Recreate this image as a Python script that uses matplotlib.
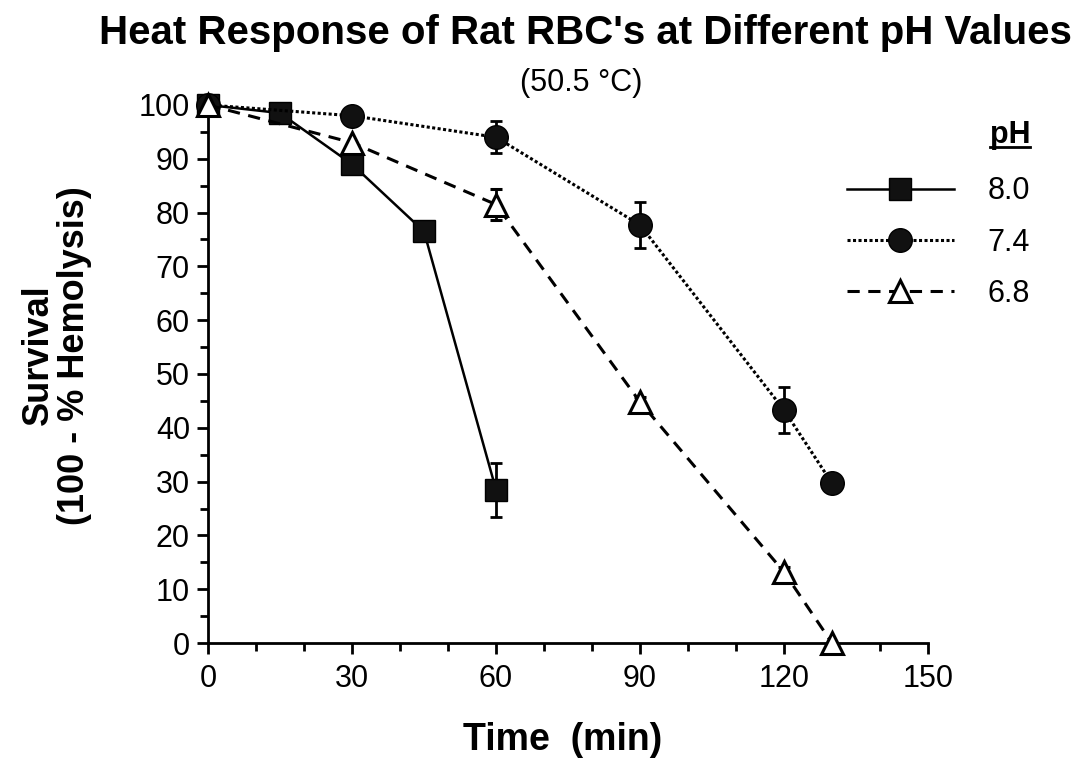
import matplotlib
matplotlib.use("Agg")
import matplotlib.pyplot as plt
from matplotlib.ticker import MultipleLocator
from matplotlib.lines import Line2D

plt.rcParams['font.family'] = ['Liberation Sans', 'DejaVu Sans']

# Data
t_80 = [0, 15, 30, 45, 60]
s_80 = [100, 98.5, 89, 76.5, 28.5]
e_80 = [0, 0, 0, 0, 5.0]

t_74 = [0, 30, 60, 90, 120, 130]
s_74 = [100, 98, 94, 77.7, 43.3, 29.7]
e_74 = [0, 0, 3.0, 4.3, 4.3, 0]

t_68 = [0, 30, 60, 90, 120, 130]
s_68 = [100, 93, 81.5, 44.8, 13.2, 0]
e_68 = [0, 0, 2.8, 1.0, 1.0, 0]

labels = ["8.0", "7.4", "6.8"]
title = "Heat Response of Rat RBC's at Different pH Values"
subtitle = "(50.5 °C)"

fig = plt.figure(figsize=(10.82, 7.59), dpi=100)
ax = fig.add_axes([0.1922, 0.1528, 0.6655, 0.7089])

ms = 16
dot = (0, (1, 0.8))
dash = (0, (4, 2.8))


def err(e):
    v = [x if x > 0 else float('nan') for x in e]
    return [v, v]


h80 = ax.errorbar(t_80, s_80, yerr=err(e_80),
                  color='black', linestyle='-', linewidth=1.8, marker='s', markersize=ms,
                  markerfacecolor='#111111', markeredgecolor='black', ecolor='black',
                  elinewidth=2, capsize=4, capthick=2, clip_on=False, zorder=3)
h74 = ax.errorbar(t_74, s_74, yerr=err(e_74),
                  color='black', linestyle=dot, linewidth=2.2, marker='o', markersize=ms + 1,
                  markerfacecolor='#111111', markeredgecolor='black', ecolor='black',
                  elinewidth=2, capsize=4, capthick=2, clip_on=False, zorder=4)
h68 = ax.errorbar(t_68, s_68, yerr=err(e_68),
                  color='black', linestyle=dash, linewidth=2.2, marker='^', markersize=ms,
                  markerfacecolor='white', markeredgecolor='black', markeredgewidth=2.2, ecolor='black',
                  elinewidth=2, capsize=4, capthick=2, clip_on=False, zorder=5)

for bars in (h80, h74, h68):
    for c in bars[1]:
        c.set_clip_on(False)
    for c in bars[2]:
        c.set_clip_on(False)

ax.set_xlim(0, 150)
ax.set_ylim(0, 100)
ax.xaxis.set_major_locator(MultipleLocator(30))
ax.xaxis.set_minor_locator(MultipleLocator(10))
ax.yaxis.set_major_locator(MultipleLocator(10))
ax.yaxis.set_minor_locator(MultipleLocator(5))
for s in ('top', 'right'):
    ax.spines[s].set_visible(False)
for s in ('left', 'bottom'):
    ax.spines[s].set_linewidth(2.0)
ax.tick_params(which='major', direction='out', length=8, width=2, labelsize=22)
ax.tick_params(axis='x', which='major', pad=7)
ax.tick_params(axis='y', which='major', pad=5)
ax.tick_params(which='minor', direction='out', length=6, width=2)

ax.set_xlabel("Time  (min)", fontsize=27, fontweight='bold')
ax.xaxis.set_label_coords(0.492, -0.147)
ax.set_ylabel("Survival\n(100 - % Hemolysis)", fontsize=26, fontweight='bold', linespacing=1.05)
ax.yaxis.set_label_coords(-0.161, 0.535)

fig.text(0.541, 1 - 44 / 759, title, ha='center', va='baseline', fontsize=29, fontweight='bold')
fig.text(0.537, 1 - 91 / 759, subtitle, ha='center', va='baseline', fontsize=22)

handles = [Line2D([], [], color='black', linestyle='-', linewidth=1.8, marker='s', markersize=ms,
                  markerfacecolor='#111111'),
           Line2D([], [], color='black', linestyle=dot, linewidth=2.2, marker='o', markersize=ms + 1,
                  markerfacecolor='#111111'),
           Line2D([], [], color='black', linestyle=dash, linewidth=2.2, marker='^', markersize=ms,
                  markerfacecolor='white', markeredgewidth=2.2)]
leg = fig.legend(handles, labels, loc='upper left', bbox_to_anchor=(847 / 1082, 1 - 120 / 759),
                 frameon=False, borderpad=0, borderaxespad=0,
                 fontsize=22, handlelength=3.5, handletextpad=1.1, labelspacing=0.7,
                 title="pH", title_fontproperties={'weight': 'bold', 'size': 22}, alignment='right')
leg._legend_box.sep = 19

fig.canvas.draw()
tt = leg.get_title()
bb = tt.get_window_extent(fig.canvas.get_renderer())
inv = fig.transFigure.inverted()
(x0, y0), (x1, y1) = inv.transform([(bb.x0, bb.y0), (bb.x1, bb.y1)])
fig.add_artist(Line2D([x0, x1], [y0 + 0.004, y0 + 0.004], color='black', linewidth=2.0,
                      transform=fig.transFigure))

fig.savefig("out.png", dpi=100)
